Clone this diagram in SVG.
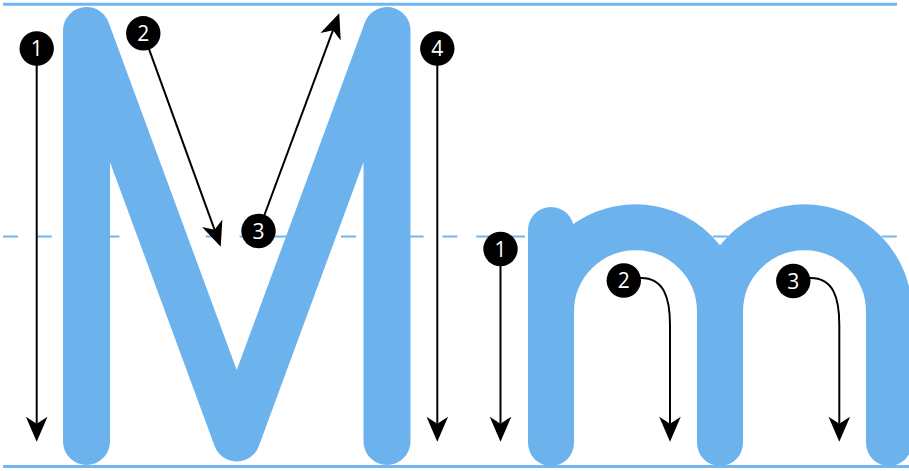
<svg xmlns="http://www.w3.org/2000/svg" width="909" height="471" viewBox="0 0 909 471">
  <style>
    .guide { stroke: #72b6f1; fill: none; }
    .letter { stroke: #6cb3ee; fill: none; stroke-linecap: round; stroke-linejoin: round; }
    .arrow { stroke: #000; stroke-width: 2; fill: none; marker-end: url(#head); }
    .badge circle { fill: #000; }
    .badge text { fill: #fff; font-family: "Open Sans", "Liberation Sans", sans-serif; font-size: 21px; text-anchor: middle; }
  </style>
  <defs>
    <marker id="head" markerUnits="userSpaceOnUse" viewBox="-1 -12 28 24" markerWidth="28" markerHeight="24" refX="7" refY="0" orient="auto" overflow="visible">
      <path d="M0,-10.8 L25,0 L0,10.8 L7,0 Z" fill="#000"/>
    </marker>
  </defs>
  <rect width="909" height="471" fill="#fff"/>

  <g id="guides-back">
    <line class="guide" x1="3" y1="236.5" x2="897" y2="236.5" stroke-width="2" stroke-dasharray="15 18.8"/>
  </g>

  <g id="letter-M">
    <path class="letter" stroke-width="47" d="M86.5,441.5 V30.5 L236.75,438 L387,30.5 V441.5"/>
  </g>
  <g id="letter-m">
    <path class="letter" stroke-width="46" d="M551,443 V230"/>
    <path class="letter" stroke-width="46" d="M551,311.8 A84.5,84.5 0 0 1 720,311.8 V443"/>
    <path class="letter" stroke-width="46" d="M720,311.8 A84.5,84.5 0 0 1 889,311.8 V443"/>
  </g>

  <g id="guides-front">
    <line class="guide" x1="3" y1="4.2" x2="897" y2="4.2" stroke-width="3"/>
    <line class="guide" x1="3" y1="466.5" x2="909" y2="466.5" stroke-width="3"/>
  </g>

  <g id="connectors">
    <path class="arrow" d="M36.7,48.5 V423.7"/>
    <path class="arrow" d="M143.3,33.3 L214.6,229.8"/>
    <path class="arrow" d="M258.5,231 L333,30.2"/>
    <path class="arrow" d="M437.3,48.5 V423.7"/>
    <path class="arrow" d="M500.5,249 V423.7"/>
    <path class="arrow" d="M624,278 H641 C664,278 670,298 670,325 V423.7"/>
    <path class="arrow" d="M793.5,278 H810.5 C833.5,278 839.3,298 839.3,325 V423.7"/>
  </g>

  <g id="node-M1" class="badge"><circle cx="36.7" cy="48.5" r="17.2"/><text x="36.7" y="56">1</text></g>
  <g id="node-M2" class="badge"><circle cx="143.3" cy="33.3" r="17.2"/><text x="143.3" y="40.8">2</text></g>
  <g id="node-M3" class="badge"><circle cx="258.5" cy="231" r="17.2"/><text x="258.5" y="238.5">3</text></g>
  <g id="node-M4" class="badge"><circle cx="437.3" cy="48.5" r="17.2"/><text x="437.3" y="56">4</text></g>
  <g id="node-m1" class="badge"><circle cx="500.5" cy="249" r="17.2"/><text x="500.5" y="256.5">1</text></g>
  <g id="node-m2" class="badge"><circle cx="623.8" cy="280.5" r="17.2"/><text x="623.8" y="288">2</text></g>
  <g id="node-m3" class="badge"><circle cx="793.3" cy="281" r="17.2"/><text x="793.3" y="288.5">3</text></g>
</svg>
